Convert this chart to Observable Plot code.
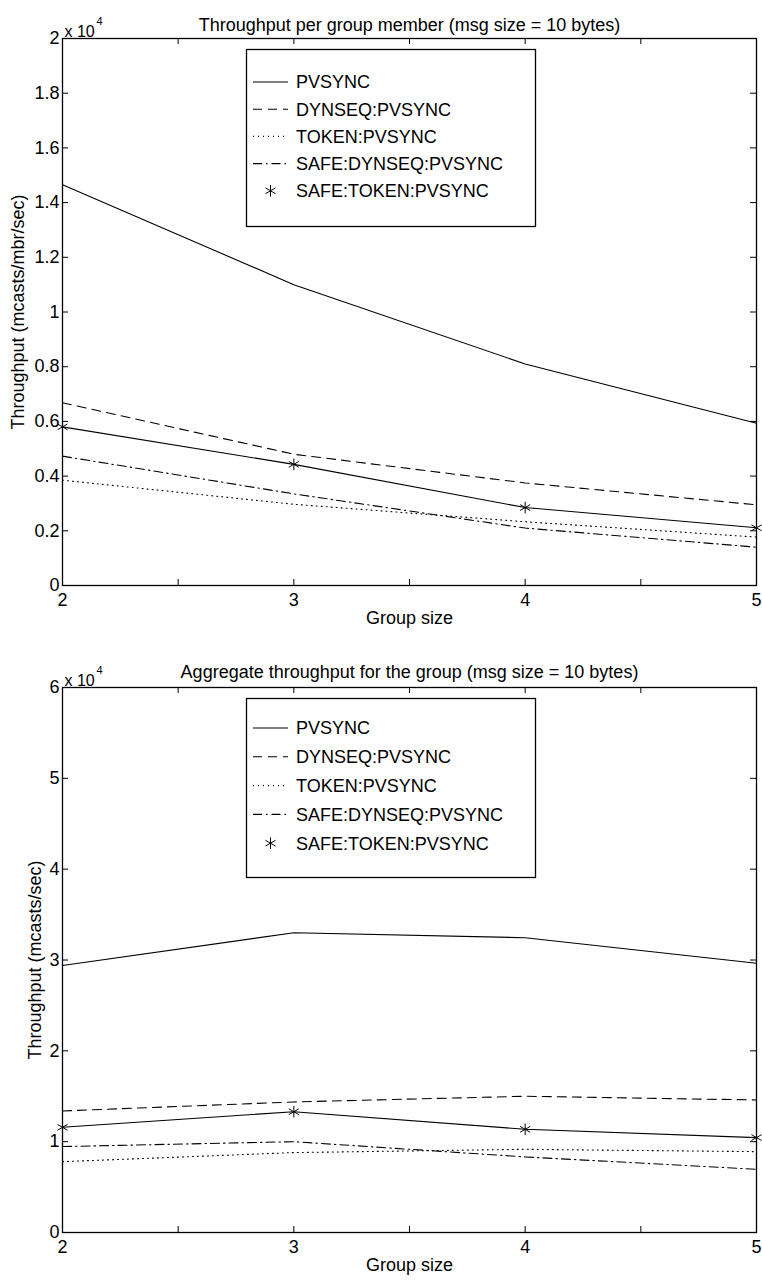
<!DOCTYPE html>
<html>
<head>
<meta charset="utf-8">
<script src="https://cdn.jsdelivr.net/npm/d3@7"></script>
<script src="https://cdn.jsdelivr.net/npm/@observablehq/plot@0.6"></script>
<style>
  html, body { margin: 0; padding: 0; background: white; }
  #charts svg { display: block; }
</style>
</head>
<body>
<div id="charts"></div>
<script>
// ---------- data ----------
const groupSizes = [2, 3, 4, 5];
const seriesNames = ["PVSYNC", "DYNSEQ:PVSYNC", "TOKEN:PVSYNC", "SAFE:DYNSEQ:PVSYNC", "SAFE:TOKEN:PVSYNC"];

// Throughput per group member (mcasts/mbr/sec)
const perMemberPvsync      = [14650, 11000, 8100, 5930];
const perMemberDynseq      = [6680, 4800, 3750, 2950];
const perMemberToken       = [3850, 2970, 2330, 1770];
const perMemberSafeDynseq  = [4730, 3350, 2100, 1400];
const perMemberSafeToken   = [5800, 4430, 2850, 2110];

// Aggregate throughput for the group (mcasts/sec)
const aggregatePvsync      = [29400, 33000, 32450, 29650];
const aggregateDynseq      = [13380, 14370, 15000, 14590];
const aggregateToken       = [7800, 8800, 9160, 8900];
const aggregateSafeDynseq  = [9460, 10000, 8320, 6960];
const aggregateSafeToken   = [11580, 13300, 11360, 10450];

const xMinorTicks = [2, 2.5, 3, 3.5, 4, 4.5, 5];
const yTicksTop = [0, 2000, 4000, 6000, 8000, 10000, 12000, 14000, 16000, 18000, 20000];
const yTicksBottom = [0, 10000, 20000, 30000, 40000, 50000, 60000];

// ---------- styles ----------
const dashes = {
  "PVSYNC": null,
  "DYNSEQ:PVSYNC": "9,6",
  "TOKEN:PVSYNC": "1,4",
  "SAFE:DYNSEQ:PVSYNC": "9,4,1.5,4",
  "SAFE:TOKEN:PVSYNC": null
};
const FONT = "'Liberation Sans', Arial, Helvetica, sans-serif";

function toRows(arrays) {
  const rows = [];
  seriesNames.forEach((name, i) => {
    groupSizes.forEach((g, j) => rows.push({series: name, x: g, y: arrays[i][j]}));
  });
  return rows;
}

function makeChart(cfg) {
  const rows = toRows(cfg.arrays);
  const fmt = v => String(+(v / 10000).toFixed(1));
  const lineMarks = seriesNames.map(name =>
    Plot.line(rows.filter(r => r.series === name), {
      x: "x", y: "y", stroke: "black", strokeWidth: 1.1,
      strokeDasharray: dashes[name]
    })
  );
  const chart = Plot.plot({
    width: 762,
    height: cfg.height,
    marginLeft: 62,
    marginRight: 6,
    marginTop: cfg.marginTop,
    marginBottom: cfg.marginBottom,
    style: {fontFamily: FONT, fontSize: "18px", color: "black", background: "white", overflow: "visible"},
    x: {domain: [2, 5]},
    y: {domain: [0, cfg.yMax]},
    marks: [
      ...lineMarks,
      Plot.dot(rows.filter(r => r.series === "SAFE:TOKEN:PVSYNC"), {
        x: "x", y: "y", symbol: "asterisk", r: 5.5, stroke: "black", strokeWidth: 1
      }),
      // inward ticks
      Plot.tickX(xMinorTicks, {x: d => d, stroke: "black", insetTop: cfg.frameH - 6}),
      Plot.tickX(xMinorTicks, {x: d => d, stroke: "black", insetBottom: cfg.frameH - 6}),
      Plot.tickY(cfg.yTicks, {y: d => d, stroke: "black", insetLeft: 688}),
      Plot.tickY(cfg.yTicks, {y: d => d, stroke: "black", insetRight: 688}),
      Plot.axisX(groupSizes, {anchor: "bottom", tickSize: 0, tickPadding: 8, tickFormat: d => String(d), label: null, fontSize: 18}),
      Plot.axisY(cfg.yTicks, {anchor: "left", tickSize: 0, tickPadding: 3, tickFormat: fmt, label: null, fontSize: 18}),
      Plot.frame({stroke: "black", strokeWidth: 1.3}),
      Plot.text([cfg.title], {frameAnchor: "top", dy: cfg.titleDy, fontSize: 18, text: d => d}),
      Plot.text(["x 10"], {frameAnchor: "top-left", dx: 2, dy: -13, textAnchor: "start", fontSize: 16, text: d => d}),
      Plot.text(["4"], {frameAnchor: "top-left", dx: 34, dy: -21, textAnchor: "start", fontSize: 11, text: d => d}),
      Plot.text(["Group size"], {frameAnchor: "bottom", dy: 38, fontSize: 18, text: d => d}),
      Plot.text([cfg.ylabel], {frameAnchor: "left", dx: cfg.ylabelDx, rotate: -90, textAnchor: "middle", fontSize: 18, text: d => d})
    ]
  });

  // legend box (layout annotation, pixel placement)
  const svg = d3.select(chart);
  const lg = svg.append("g").attr("font-family", FONT).attr("font-size", 18).attr("text-anchor", "start");
  lg.append("rect").attr("x", 246.5).attr("y", cfg.legTop + 0.5).attr("width", 289).attr("height", cfg.legH)
    .attr("fill", "white").attr("stroke", "black").attr("stroke-width", 1.3);
  seriesNames.forEach((name, i) => {
    const y = cfg.legRow0 + i * cfg.legStep;
    if (name === "SAFE:TOKEN:PVSYNC") {
      const s = d3.symbol(d3.symbolAsterisk, Math.PI * 5.5 * 5.5)();
      lg.append("path").attr("d", s).attr("transform", `translate(270.5,${y})`)
        .attr("fill", "none").attr("stroke", "black").attr("stroke-width", 1);
    } else {
      lg.append("line").attr("x1", 253).attr("x2", 288).attr("y1", y).attr("y2", y)
        .attr("stroke", "black").attr("stroke-width", 1.1)
        .attr("stroke-dasharray", dashes[name]);
    }
    lg.append("text").attr("x", 296).attr("y", y).attr("dy", "0.35em").text(name);
  });
  return chart;
}

const container = document.getElementById("charts");
container.appendChild(makeChart({
  arrays: [perMemberPvsync, perMemberDynseq, perMemberToken, perMemberSafeDynseq, perMemberSafeToken],
  title: "Throughput per group member (msg size = 10 bytes)",
  ylabel: "Throughput (mcasts/mbr/sec)",
  yMax: 20000, yTicks: yTicksTop,
  height: 642, marginTop: 38, marginBottom: 57, frameH: 547,
  titleDy: -20, ylabelDx: -44,
  legTop: 49, legH: 177, legRow0: 82, legStep: 27.2
}));
container.appendChild(makeChart({
  arrays: [aggregatePvsync, aggregateDynseq, aggregateToken, aggregateSafeDynseq, aggregateSafeToken],
  title: "Aggregate throughput for the group (msg size = 10 bytes)",
  ylabel: "Throughput (mcasts/sec)",
  yMax: 60000, yTicks: yTicksBottom,
  height: 642, marginTop: 45, marginBottom: 52, frameH: 545,
  titleDy: -22, ylabelDx: -27,
  legTop: 56, legH: 179, legRow0: 86, legStep: 28.8
}));
</script>
</body>
</html>
